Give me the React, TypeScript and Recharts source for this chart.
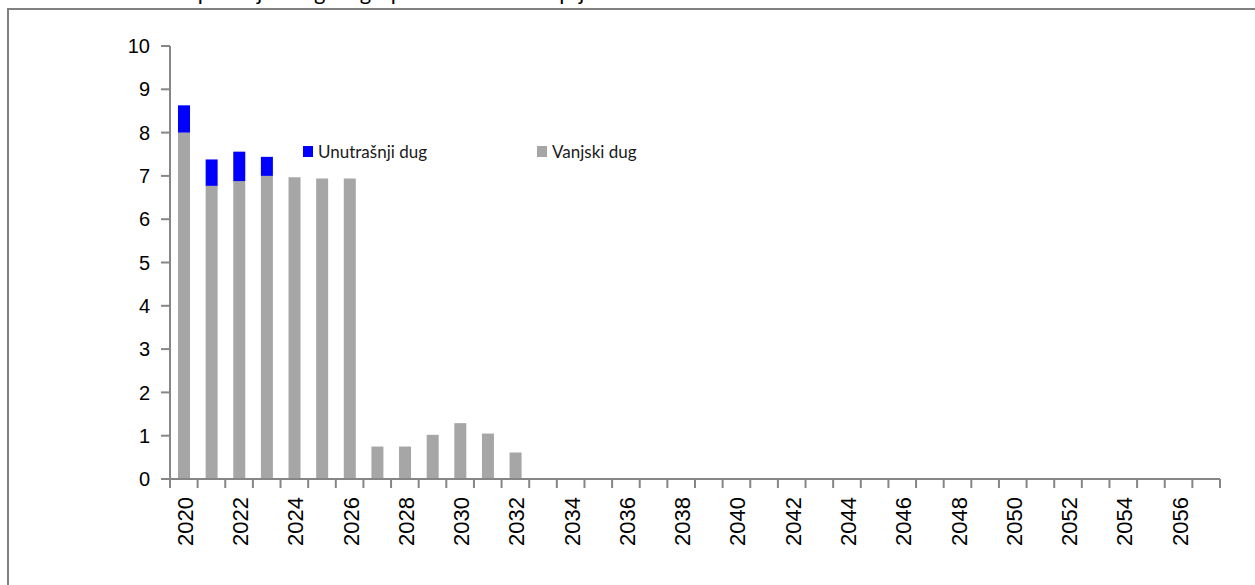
import { BarChart, Bar, XAxis, YAxis } from "recharts";

// godine (kategorije)
const godine = [
  2020, 2021, 2022, 2023, 2024, 2025, 2026, 2027, 2028, 2029, 2030, 2031, 2032,
  2033, 2034, 2035, 2036, 2037, 2038, 2039, 2040, 2041, 2042, 2043, 2044, 2045,
  2046, 2047, 2048, 2049, 2050, 2051, 2052, 2053, 2054, 2055, 2056, 2057,
];

// mlrd, ocitano s grafikona
const vanjskiDug = [
  8.0, 6.77, 6.88, 7.0, 6.97, 6.94, 6.94, 0.75, 0.75, 1.02, 1.29, 1.05, 0.61,
  0, 0, 0, 0, 0, 0, 0, 0, 0, 0, 0, 0, 0,
  0, 0, 0, 0, 0, 0, 0, 0, 0, 0, 0, 0,
];
const unutarnjiDug = [
  0.63, 0.61, 0.68, 0.44, 0, 0, 0, 0, 0, 0, 0, 0, 0,
  0, 0, 0, 0, 0, 0, 0, 0, 0, 0, 0, 0, 0,
  0, 0, 0, 0, 0, 0, 0, 0, 0, 0, 0, 0,
];

const yTicks = [0, 1, 2, 3, 4, 5, 6, 7, 8, 9, 10];
const oznakeGodina = [
  2020, 2022, 2024, 2026, 2028, 2030, 2032, 2034, 2036, 2038,
  2040, 2042, 2044, 2046, 2048, 2050, 2052, 2054, 2056,
];

const data = godine.map((godina, i) => ({
  godina,
  vanjski: vanjskiDug[i],
  unutarnji: unutarnjiDug[i],
}));

// granice kategorija za crtice na osi (kao u Excelu)
const granice = [...godine.map((g) => g - 0.5), godine[godine.length - 1] + 0.5];
const domena: [number, number] = [granice[0], granice[granice.length - 1]];

const osBoja = "#868686";

function GodinaTick(props: any) {
  const { x, y, payload } = props;
  return (
    <text
      x={x}
      y={y}
      dy={9}
      transform={`rotate(-90, ${x}, ${y})`}
      textAnchor="end"
      fill="#000"
      fontSize={22}
      fontFamily="'Liberation Sans', Arial, sans-serif"
    >
      {payload.value}
    </text>
  );
}

export default function App() {
  return (
    <div
      style={{
        position: "fixed",
        left: 0,
        top: 0,
        width: 1255,
        height: 585,
        overflow: "hidden",
        background: "#fff",
      }}
    >
      <div
        style={{
          position: "absolute",
          left: -1,
          top: -22,
          fontFamily: "Lato, sans-serif",
          fontSize: 22,
          letterSpacing: 1,
          color: "#000",
          whiteSpace: "nowrap",
        }}
      >
        Grafikon 4: Plan otplate javnog duga po vremenu dospijeća
      </div>

      <div
        style={{
          position: "absolute",
          left: 7,
          top: 8,
          width: 1400,
          height: 800,
          border: "2px solid #808080",
        }}
      />

      <div style={{ position: "absolute", left: 0, top: 0 }}>
        <BarChart
          width={1255}
          height={585}
          data={data}
          margin={{ top: 46, right: 35, bottom: 0, left: 0 }}
          barSize={12}
        >
          <XAxis
            xAxisId="a"
            dataKey="godina"
            type="number"
            scale="linear"
            domain={domena}
            allowDataOverflow
            ticks={granice}
            interval={0}
            tickFormatter={() => ""}
            height={1}
            tickSize={9}
            axisLine={{ stroke: osBoja, strokeWidth: 2 }}
            tickLine={{ stroke: osBoja, strokeWidth: 2 }}
          />
          <XAxis
            xAxisId="b"
            dataKey="godina"
            type="number"
            scale="linear"
            domain={domena}
            allowDataOverflow
            ticks={oznakeGodina}
            interval={0}
            height={105}
            tickSize={0}
            tickMargin={17}
            axisLine={false}
            tickLine={false}
            tick={<GodinaTick />}
          />
          <YAxis
            domain={[0, 10]}
            ticks={yTicks}
            interval={0}
            width={170}
            tickSize={9}
            tickMargin={11}
            axisLine={{ stroke: osBoja, strokeWidth: 2 }}
            tickLine={{ stroke: osBoja, strokeWidth: 2 }}
            tick={{
              fill: "#000",
              fontSize: 20,
              fontFamily: "'Liberation Sans', Arial, sans-serif",
            }}
          />
          <Bar
            xAxisId="a"
            dataKey="vanjski"
            name="Vanjski dug"
            stackId="dug"
            fill="#A6A6A6"
            isAnimationActive={false}
          />
          <Bar
            xAxisId="a"
            dataKey="unutarnji"
            name="Unutrašnji dug"
            stackId="dug"
            fill="#0000FF"
            isAnimationActive={false}
          />
        </BarChart>
      </div>

      {/* legenda */}
      <div
        style={{
          position: "absolute",
          left: 303,
          top: 141,
          display: "flex",
          alignItems: "center",
          fontFamily: "Lato, sans-serif",
          fontSize: 17,
          color: "#1a1a1a",
        }}
      >
        <span style={{ width: 10, height: 11, background: "#0000FF", marginRight: 5 }} />
        Unutrašnji dug
      </div>
      <div
        style={{
          position: "absolute",
          left: 537,
          top: 141,
          display: "flex",
          alignItems: "center",
          fontFamily: "Lato, sans-serif",
          fontSize: 17,
          color: "#1a1a1a",
        }}
      >
        <span style={{ width: 10, height: 11, background: "#A6A6A6", marginRight: 5 }} />
        Vanjski dug
      </div>
    </div>
  );
}
